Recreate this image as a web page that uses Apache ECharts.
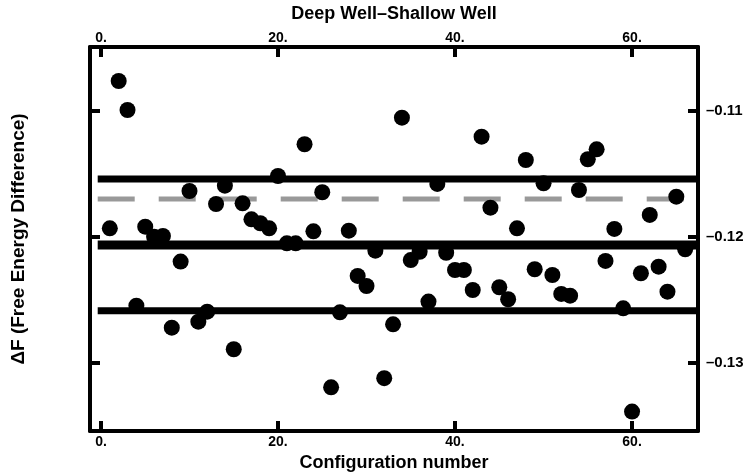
<!DOCTYPE html>
<html>
<head>
<meta charset="utf-8">
<script src="https://cdn.jsdelivr.net/npm/echarts@6/dist/echarts.min.js"></script>
<style>
  html, body { margin: 0; padding: 0; background: #fff; }
  #chart { width: 750px; height: 473px; }
</style>
</head>
<body>
<div id="chart"></div>
<script>
// configuration number vs free energy difference
const configIds = [
  1, 2, 3, 4, 5, 6, 7, 8, 9, 10, 11, 12, 13, 14, 15, 16, 17, 18, 19, 20, 21, 22,
  23, 24, 25, 26, 27, 28, 29, 30, 31, 32, 33, 34, 35, 36, 37, 38, 39, 40, 41, 42, 43, 44,
  45, 46, 47, 48, 49, 50, 51, 52, 53, 54, 55, 56, 57, 58, 59, 60, 61, 62, 63, 64, 65, 66
];
const deltaF = [
  -0.11935, -0.10766, -0.10996, -0.12549, -0.11922, -0.12002, -0.11996, -0.12724, -0.12199, -0.11639, -0.12676,
  -0.12597, -0.11742, -0.11597, -0.12895, -0.11737, -0.11864, -0.11895, -0.11935, -0.11520, -0.12054, -0.12054,
  -0.11268, -0.11959, -0.11649, -0.13197, -0.12602, -0.11954, -0.12313, -0.12393, -0.12113, -0.13125, -0.12697,
  -0.11057, -0.12187, -0.12121, -0.12517, -0.11583, -0.12129, -0.12266, -0.12266, -0.12425, -0.11208, -0.11771,
  -0.12403, -0.12498, -0.11935, -0.11393, -0.12260, -0.11578, -0.12306, -0.12456, -0.12470, -0.11631, -0.11387,
  -0.11308, -0.12194, -0.11940, -0.12570, -0.13390, -0.12292, -0.11829, -0.12240, -0.12438, -0.11684, -0.12102
];

// reference lines: mean, mean +/- spread, and the shallow-well value
const meanLine = -0.12067;
const upperLine = -0.11544;
const lowerLine = -0.12589;
const shallowLine = -0.11702;
const lineRange = [-0.37, 67.45];

const xTicks = [0, 20, 40, 60];
const yTicks = [-0.11, -0.12, -0.13];
const xRange = [-1.24, 67.45];
const yRange = [-0.13544, -0.10496];

const chart = echarts.init(document.getElementById('chart'));

const font = 'Liberation Sans, Arial, sans-serif';
const lineSeg = function (v) {
  return lineRange.map(x => [x, v]);
};

const xAxisBase = {
  type: 'value',
  min: xRange[0],
  max: xRange[1],
  splitLine: { show: false },
  axisLine: { show: true, onZero: false, lineStyle: { color: '#000', width: 4 } },
  axisTick: { show: true, inside: true, length: 10, customValues: xTicks, lineStyle: { color: '#000', width: 4 } },
  axisLabel: {
    show: true, customValues: xTicks, margin: 4,
    color: '#000', fontFamily: font, fontWeight: 'bold', fontSize: 14,
    formatter: v => v + '.'
  },
  nameLocation: 'middle',
  nameTextStyle: { color: '#000', fontFamily: font, fontWeight: 'bold', fontSize: 18 }
};

const yAxisBase = {
  type: 'value',
  min: yRange[0],
  max: yRange[1],
  splitLine: { show: false },
  axisLine: { show: true, onZero: false, lineStyle: { color: '#000', width: 4 } },
  axisTick: { show: true, inside: true, length: 10, customValues: yTicks, lineStyle: { color: '#000', width: 4 } },
  axisLabel: {
    show: false, customValues: yTicks, margin: 8,
    color: '#000', fontFamily: font, fontWeight: 'bold', fontSize: 15,
    formatter: v => '\u2013' + Math.abs(v).toFixed(2)
  }
};

const option = {
  animation: false,
  backgroundColor: '#fff',
  grid: { left: 90, right: 52, top: 47, bottom: 42, outerBoundsMode: 'none' },
  xAxis: [
    Object.assign({}, xAxisBase, { position: 'bottom', name: 'Configuration number', nameGap: 23 }),
    Object.assign({}, xAxisBase, {
      position: 'top', name: 'Deep Well\u2013Shallow Well', nameGap: 24,
      axisLabel: Object.assign({}, xAxisBase.axisLabel, { margin: 2 })
    })
  ],
  yAxis: [
    Object.assign({}, yAxisBase, {
      position: 'left',
      name: '\u0394F (Free Energy Difference)',
      nameLocation: 'middle',
      nameGap: 62,
      nameTextStyle: { color: '#000', fontFamily: font, fontWeight: 'bold', fontSize: 19 }
    }),
    Object.assign({}, yAxisBase, {
      position: 'right',
      axisLabel: Object.assign({}, yAxisBase.axisLabel, { show: true })
    })
  ],
  series: [
    {
      type: 'line', data: lineSeg(shallowLine), showSymbol: false, z: 2,
      lineStyle: { color: '#999', width: 5, type: [37, 24], cap: 'butt' }
    },
    {
      type: 'line', data: lineSeg(upperLine), showSymbol: false, z: 2,
      lineStyle: { color: '#000', width: 7, cap: 'butt' }
    },
    {
      type: 'line', data: lineSeg(meanLine), showSymbol: false, z: 2,
      lineStyle: { color: '#000', width: 9, cap: 'butt' }
    },
    {
      type: 'line', data: lineSeg(lowerLine), showSymbol: false, z: 2,
      lineStyle: { color: '#000', width: 7, cap: 'butt' }
    },
    {
      type: 'scatter', z: 5,
      symbol: 'circle', symbolSize: 16,
      itemStyle: { color: '#000', opacity: 1 },
      data: configIds.map((c, i) => [c, deltaF[i]])
    }
  ]
};

chart.setOption(option);
</script>
</body>
</html>
